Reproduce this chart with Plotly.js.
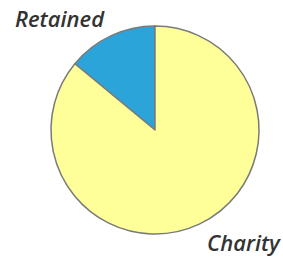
<!DOCTYPE html>
<html><head><meta charset="utf-8">
<script src="https://cdn.plot.ly/plotly-3.0.1.min.js"></script>
<style>html,body{margin:0;padding:0;background:#fff}</style>
</head><body><div id="chart" style="width:283px;height:257px"></div>
<script>
const labels = ["Retained", "Charity"];
const values = [14, 86];
const colors = ["#2ba5d9", "#ffff99"];
const labelPos = [[0.212, 0.93], [0.861, 0.058]];
const total = values.reduce((a, b) => a + b, 0);

const data = [{
  type: "pie",
  labels: labels,
  values: values,
  sort: false,
  direction: "clockwise",
  rotation: -360 * values[0] / total,
  textinfo: "none",
  hoverinfo: "none",
  showlegend: false,
  marker: {colors: colors, line: {color: "#7a7a7a", width: 1.5}},
  domain: {x: [0.1802, 0.9152], y: [0.0895, 0.8988]}
}];
const layout = {
  width: 283, height: 257,
  margin: {l: 0, r: 0, t: 0, b: 0},
  paper_bgcolor: "#fff",
  showlegend: false,
  annotations: labels.map((t, i) => ({
    text: "<i>" + t + "</i>", x: labelPos[i][0], y: labelPos[i][1],
    xref: "paper", yref: "paper", showarrow: false,
    xanchor: "center", yanchor: "middle",
    font: {family: "Open Sans", size: 22, color: "#333333", weight: 600}
  }))
};
Plotly.newPlot("chart", data, layout, {staticPlot: true});
</script></body></html>
